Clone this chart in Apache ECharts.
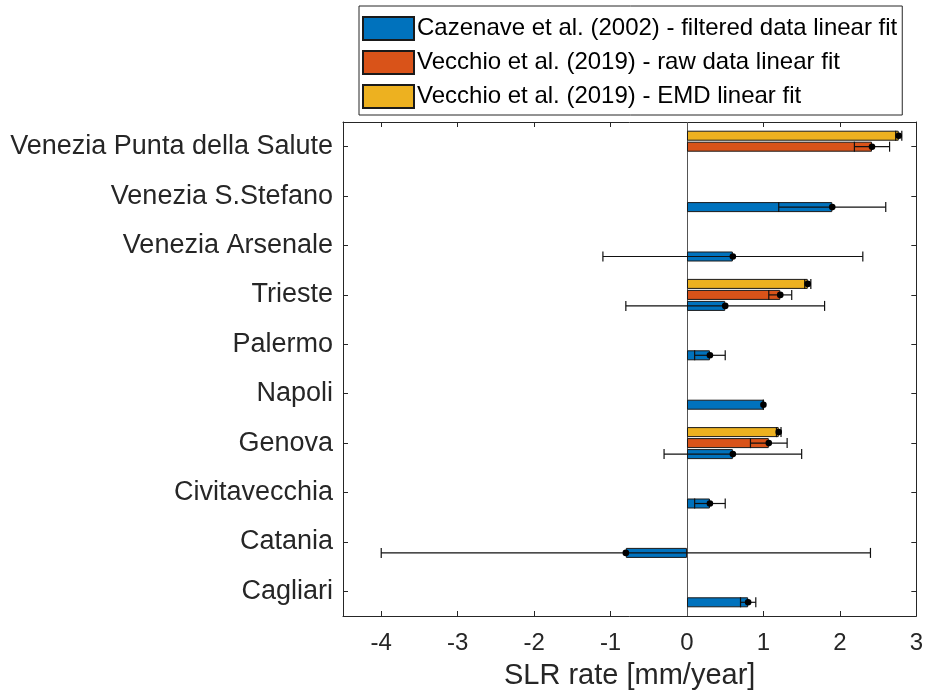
<!DOCTYPE html>
<html>
<head>
<meta charset="utf-8">
<title>SLR rate by tide gauge</title>
<script src="https://cdn.jsdelivr.net/npm/echarts@6/dist/echarts.min.js"></script>
<style>
  html, body { margin: 0; padding: 0; background: #fff; }
  #chart { width: 926px; height: 695px; }
</style>
</head>
<body>
<div id="chart"></div>
<script>
// Tide gauge stations, bottom to top
const stations = ['Cagliari', 'Catania', 'Civitavecchia', 'Genova', 'Napoli',
  'Palermo', 'Trieste', 'Venezia Arsenale', 'Venezia S.Stefano', 'Venezia Punta della Salute'];

// Cazenave et al. (2002) - filtered data linear fit [mm/year]
const cazenaveRate = [0.8, -0.8, 0.3, 0.6, 1.0, 0.3, 0.5, 0.6, 1.9, null];
const cazenaveErr  = [0.1, 3.2, 0.2, 0.9, 0.0, 0.2, 1.3, 1.7, 0.7, null];

// Vecchio et al. (2019) - raw data linear fit [mm/year]
const rawRate = [null, null, null, 1.07, null, null, 1.22, null, null, 2.42];
const rawErr  = [null, null, null, 0.24, null, null, 0.15, null, null, 0.23];

// Vecchio et al. (2019) - EMD linear fit [mm/year]
const emdRate = [null, null, null, 1.2, null, null, 1.58, null, null, 2.77];
const emdErr  = [null, null, null, 0.03, null, null, 0.04, null, null, 0.04];

const xTicks = [-4, -3, -2, -1, 0, 1, 2, 3];
const xMin = -4.5, xMax = 3;

const names = {
  caz: 'Cazenave et al. (2002) - filtered data linear fit',
  raw: 'Vecchio et al. (2019) - raw data linear fit',
  emd: 'Vecchio et al. (2019) - EMD linear fit'
};
const colors = { caz: '#0072BD', raw: '#D95319', emd: '#EDB120' };

const FONT = 'Liberation Sans, Arial, Helvetica, sans-serif';
const INK = '#262626';
const BAR_W = 10;      // bar thickness in px
const BAR_STEP = 11;   // distance between bar centres within a group

// rows for the error bar series: [low, high, value, stationIndex]
function errorRows(rate, err) {
  const rows = [];
  rate.forEach((v, i) => {
    if (v === null) return;
    const e = err[i] || 0;
    rows.push([v - e, v + e, v, i]);
  });
  return rows;
}

function errorBarRenderer(slot) {
  return function (params, api) {
    const cat = api.value(3);
    const lo = api.coord([api.value(0), cat]);
    const hi = api.coord([api.value(1), cat]);
    const mid = api.coord([api.value(2), cat]);
    const y = lo[1] + slot * BAR_STEP;
    const cap = 5;
    const st = { stroke: '#111', lineWidth: 1.2 };
    return {
      type: 'group',
      children: [
        { type: 'line', shape: { x1: lo[0], y1: y, x2: hi[0], y2: y }, style: st },
        { type: 'line', shape: { x1: lo[0], y1: y - cap, x2: lo[0], y2: y + cap }, style: st },
        { type: 'line', shape: { x1: hi[0], y1: y - cap, x2: hi[0], y2: y + cap }, style: st },
        { type: 'circle', shape: { cx: mid[0], cy: y, r: 3.3 }, style: { fill: '#000' } }
      ]
    };
  };
}

function barSeries(key, data) {
  return {
    name: names[key],
    type: 'bar',
    data: data,
    barWidth: BAR_W,
    barGap: '10%',
    itemStyle: { color: colors[key], borderColor: '#1a1a1a', borderWidth: 1 },
    emphasis: { disabled: true },
    z: 2
  };
}

function errSeries(key, rate, err, slot) {
  return {
    name: names[key] + ' error',
    type: 'custom',
    renderItem: errorBarRenderer(slot),
    data: errorRows(rate, err),
    encode: { x: [0, 1, 2], y: 3 },
    z: 5,
    silent: true
  };
}

const chart = echarts.init(document.getElementById('chart'), null, { renderer: 'canvas' });

const emdBar = barSeries('emd', emdRate);
emdBar.markLine = {
  silent: true,
  symbol: ['none', 'none'],
  label: { show: false },
  lineStyle: { color: '#555', width: 1, type: 'solid' },
  data: [{ xAxis: 0 }],
  z: 1
};

const option = {
  animation: false,
  textStyle: { fontFamily: FONT, color: INK },
  legend: {
    data: [names.caz, names.raw, names.emd],
    orient: 'vertical',
    left: 359,
    top: 6,
    icon: 'rect',
    itemWidth: 51,
    itemHeight: 23,
    itemGap: 9,
    padding: [10, 5, 6, 3],
    borderColor: INK,
    borderWidth: 1,
    textStyle: { fontSize: 24, color: '#000', fontFamily: FONT, padding: [0, 0, 0, -2] },
    selectedMode: false
  },
  grid: { left: 343, right: 8, top: 122, bottom: 76, containLabel: false },
  xAxis: [{
    type: 'value',
    min: xMin,
    max: xMax,
    position: 'bottom',
    name: 'SLR rate [mm/year]',
    nameLocation: 'middle',
    nameGap: 45,
    nameTextStyle: { fontSize: 29, color: INK, fontFamily: FONT },
    axisLine: { show: true, lineStyle: { color: INK, width: 1 } },
    axisTick: { show: true, inside: true, length: 5, customValues: xTicks, lineStyle: { color: INK } },
    axisLabel: { customValues: xTicks, fontSize: 24, color: INK, margin: 15, fontFamily: FONT },
    splitLine: { show: false }
  }, {
    type: 'value',
    min: xMin,
    max: xMax,
    position: 'top',
    axisLine: { show: true, lineStyle: { color: INK, width: 1 } },
    axisTick: { show: true, inside: true, length: 5, customValues: xTicks, lineStyle: { color: INK } },
    axisLabel: { show: false },
    splitLine: { show: false }
  }],
  yAxis: [{
    type: 'category',
    data: stations,
    position: 'left',
    axisLine: { show: true, onZero: false, lineStyle: { color: INK, width: 1 } },
    axisTick: { show: true, inside: true, length: 5, alignWithLabel: true, lineStyle: { color: INK } },
    axisLabel: { fontSize: 27, color: INK, margin: 10, fontFamily: FONT },
    splitLine: { show: false }
  }, {
    type: 'category',
    data: stations,
    position: 'right',
    axisLine: { show: true, onZero: false, lineStyle: { color: INK, width: 1 } },
    axisTick: { show: true, inside: true, length: 5, alignWithLabel: true, lineStyle: { color: INK } },
    axisLabel: { show: false },
    splitLine: { show: false }
  }],
  series: [
    emdBar,
    barSeries('raw', rawRate),
    barSeries('caz', cazenaveRate),
    errSeries('emd', emdRate, emdErr, -1),
    errSeries('raw', rawRate, rawErr, 0),
    errSeries('caz', cazenaveRate, cazenaveErr, 1)
  ]
};

chart.setOption(option);
</script>
</body>
</html>
